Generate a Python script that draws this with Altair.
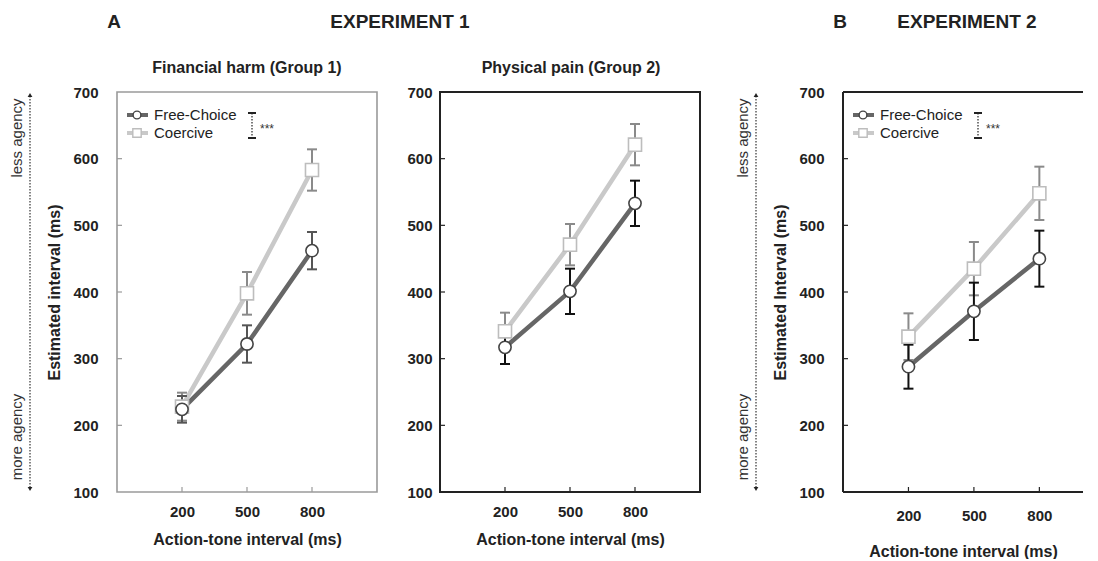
import altair as alt
import pandas as pd

# ---------------- data ----------------
intervals = [200, 500, 800]
conditions = ["Free-Choice", "Coercive"]
y_ticks = [100, 200, 300, 400, 500, 600, 700]

# Experiment 1, Group 1 (financial harm)
fin_free = [224, 322, 462]
fin_free_se = [20, 28, 28]
fin_coer = [228, 398, 583]
fin_coer_se = [21, 32, 31]

# Experiment 1, Group 2 (physical pain)
pain_free = [317, 401, 533]
pain_free_se = [25, 34, 34]
pain_coer = [341, 471, 621]
pain_coer_se = [28, 31, 31]

# Experiment 2
exp2_free = [288, 371, 450]
exp2_free_se = [33, 43, 42]
exp2_coer = [333, 435, 548]
exp2_coer_se = [35, 40, 40]

FONT = "Liberation Sans"
H = 400
TXT = "#222222"


def frame(free, free_se, coer, coer_se):
    rows = []
    for cond, vals, ses in [(conditions[0], free, free_se), (conditions[1], coer, coer_se)]:
        for x, v, e in zip(intervals, vals, ses):
            rows.append({"cond": cond, "x": x, "y": v, "err": e})
    return pd.DataFrame(rows)


def text_layer(label, x, y, size=15, weight="normal", angle=0, color=TXT, align="center"):
    return alt.Chart(pd.DataFrame({"t": [label]})).mark_text(
        font=FONT, fontSize=size, fontWeight=weight, angle=angle, color=color,
        align=align, baseline="middle"
    ).encode(text="t:N", x=alt.value(x), y=alt.value(y))


def panel(df, width, xdomain, ytitle, ylab_pad, xlab_pad, xtitle_pad, free_bar,
          legend=False, agency=False, extra=None):
    xs = alt.Scale(domain=xdomain, nice=False, zero=False)
    ys = alt.Scale(domain=[100, 700], nice=False, zero=False)
    xax = alt.Axis(values=intervals, ticks=False, grid=False, domain=False, labelAngle=0,
                   labelFont=FONT, labelFontSize=15, labelFontWeight="bold", labelColor=TXT,
                   labelPadding=xlab_pad, title="Action-tone interval (ms)", titleFont=FONT,
                   titleFontSize=16, titleFontWeight="bold", titleColor=TXT,
                   titlePadding=xtitle_pad)
    yax = alt.Axis(values=y_ticks, ticks=False, grid=False, domain=False,
                   labelFont=FONT, labelFontSize=15, labelFontWeight="bold", labelColor=TXT,
                   labelPadding=ylab_pad, title=ytitle, titleFont=FONT, titleFontSize=16,
                   titleFontWeight="bold", titleColor=TXT, titlePadding=10)

    base = alt.Chart(df).transform_calculate(lo="datum.y - datum.err", hi="datum.y + datum.err")
    X = alt.X("x:Q", scale=xs, axis=xax)
    layers = []
    styles = {
        conditions[0]: dict(line="#666666", bar=free_bar, shape="circle", msize=150,
                            mstroke="#444444"),
        conditions[1]: dict(line="#c9c9c9", bar="#8a8a8a", shape="square", msize=170,
                            mstroke="#bdbdbd"),
    }
    for cond in [conditions[1], conditions[0]]:
        st = styles[cond]
        b = base.transform_filter(alt.datum.cond == cond)
        layers.append(b.mark_line(strokeWidth=4.5, color=st["line"]).encode(
            x=X, y=alt.Y("y:Q", scale=ys, axis=yax)))
    for cond in [conditions[1], conditions[0]]:
        st = styles[cond]
        b = base.transform_filter(alt.datum.cond == cond)
        layers.append(b.mark_rule(strokeWidth=2, color=st["bar"]).encode(
            x=X, y=alt.Y("lo:Q", scale=ys, axis=yax), y2="hi:Q"))
        for f in ["lo", "hi"]:
            layers.append(b.mark_tick(orient="horizontal", size=10, thickness=2,
                                      color=st["bar"], opacity=1).encode(
                x=X, y=alt.Y(f + ":Q", scale=ys, axis=yax)))
    for cond in [conditions[1], conditions[0]]:
        st = styles[cond]
        b = base.transform_filter(alt.datum.cond == cond)
        layers.append(b.mark_point(shape=st["shape"], size=st["msize"], fill="white",
                                   stroke=st["mstroke"], strokeWidth=1.6, opacity=1,
                                   fillOpacity=1).encode(
            x=X, y=alt.Y("y:Q", scale=ys, axis=yax)))

    # inward tick marks
    tick_col = "#9a9a9a" if free_bar == "#555555" else "#222222"
    yt = alt.Chart(pd.DataFrame({"v": y_ticks[1:-1]})).mark_rule(color=tick_col, strokeWidth=1.2).encode(
        y=alt.Y("v:Q", scale=ys, axis=yax), x=alt.value(0), x2=alt.value(5))
    xt = alt.Chart(pd.DataFrame({"v": intervals})).mark_rule(color=tick_col, strokeWidth=1.2).encode(
        x=alt.X("v:Q", scale=xs, axis=xax), y=alt.value(H), y2=alt.value(H - 5))
    layers += [yt, xt]

    if legend:
        one = pd.DataFrame({"k": [0]})
        for i, cond in enumerate(conditions):
            st = styles[cond]
            yy = 23 + i * 18
            layers.append(alt.Chart(one).mark_rule(strokeWidth=4, color=st["line"]).encode(
                x=alt.value(10), x2=alt.value(31), y=alt.value(yy)))
            layers.append(alt.Chart(one).mark_point(
                shape=st["shape"], size=60 if i == 0 else 70, fill="white",
                stroke=st["mstroke"], strokeWidth=1.4, opacity=1).encode(
                x=alt.value(20), y=alt.value(yy)))
            layers.append(text_layer(cond, 37, yy, size=15, align="left"))
        layers.append(alt.Chart(one).mark_rule(strokeWidth=1.2, color="#222", strokeDash=[1.5, 1.5]).encode(
            x=alt.value(135), y=alt.value(21), y2=alt.value(46)))
        for yy in [21, 46]:
            layers.append(alt.Chart(one).mark_rule(strokeWidth=2, color="#222").encode(
                x=alt.value(131), x2=alt.value(139), y=alt.value(yy)))
        layers.append(text_layer("***", 143, 37, size=12, align="left", color="#333"))

    if agency:
        one = pd.DataFrame({"k": [0]})
        layers.append(alt.Chart(one).mark_rule(strokeWidth=1.2, color="#333", strokeDash=[1.5, 1.5]).encode(
            x=alt.value(-87), y=alt.value(4), y2=alt.value(396)))
        layers.append(alt.Chart(one).mark_point(shape="triangle-up", size=22, filled=True,
                                                color="#222", opacity=1).encode(
            x=alt.value(-87), y=alt.value(3)))
        layers.append(alt.Chart(one).mark_point(shape="triangle-down", size=22, filled=True,
                                                color="#222", opacity=1).encode(
            x=alt.value(-87), y=alt.value(397)))
        layers.append(text_layer("less agency", -100, 46, size=15, angle=270, color="#333"))
        layers.append(text_layer("more agency", -100, 345, size=15, angle=270, color="#333"))

    if extra:
        layers += extra
    return layers


# -------- panel 1 --------
p1_layers = panel(frame(fin_free, fin_free_se, fin_coer, fin_coer_se), 260, [-100, 1100],
                  "Estimated interval (ms)", 19, 12, 12, "#555555", legend=True, agency=True,
                  extra=[text_layer("A", -3, -70, size=19, weight="bold"),
                         text_layer("EXPERIMENT 1", 283, -70, size=19, weight="bold"),
                         text_layer("Financial harm (Group 1)", 130, -24, size=16, weight="bold")])
p1 = alt.layer(*p1_layers).properties(
    width=260, height=H, view=alt.ViewBackground(stroke="#9a9a9a", strokeWidth=1.6))

# -------- panel 2 --------
p2_layers = panel(frame(pain_free, pain_free_se, pain_coer, pain_coer_se), 260, [-100, 1100],
                  None, 8, 12, 12, "#111111",
                  extra=[text_layer("Physical pain (Group 2)", 131, -24, size=16, weight="bold")])
p2 = alt.layer(*p2_layers).properties(
    width=260, height=H, view=alt.ViewBackground(stroke="#222222", strokeWidth=2))

# -------- panel 3 --------
W3 = 240
one = pd.DataFrame({"k": [0]})
frame3 = [
    alt.Chart(one).mark_rule(strokeWidth=2, color="#222").encode(
        x=alt.value(0), x2=alt.value(W3), y=alt.value(0)),
    alt.Chart(one).mark_rule(strokeWidth=2, color="#222").encode(
        x=alt.value(0), x2=alt.value(W3), y=alt.value(H)),
    alt.Chart(one).mark_rule(strokeWidth=2, color="#222").encode(
        x=alt.value(0), y=alt.value(0), y2=alt.value(H)),
]
p3_layers = panel(frame(exp2_free, exp2_free_se, exp2_coer, exp2_coer_se), W3, [-100, 1000],
                  "Estimated Interval (ms)", 19, 16, 20, "#111111", legend=True, agency=True,
                  extra=frame3 + [text_layer("B", -3, -70, size=19, weight="bold"),
                                  text_layer("EXPERIMENT 2", 124, -70, size=19, weight="bold")])
p3 = alt.layer(*p3_layers).properties(
    width=W3, height=H, view=alt.ViewBackground(strokeOpacity=0))

# empty spacer between experiments
spacer = alt.Chart(one).mark_point(opacity=0).encode(
    x=alt.value(0), y=alt.value(0)
).properties(width=17, height=H, view=alt.ViewBackground(strokeOpacity=0))

chart = alt.hconcat(p1, p2, spacer, p3, spacing=63, bounds="flush").properties(
    padding={"left": 1, "top": 4, "right": 5, "bottom": 0}
).configure_view(stroke=None)

chart.save("out.html", embed_options={"renderer": "svg", "actions": False})
